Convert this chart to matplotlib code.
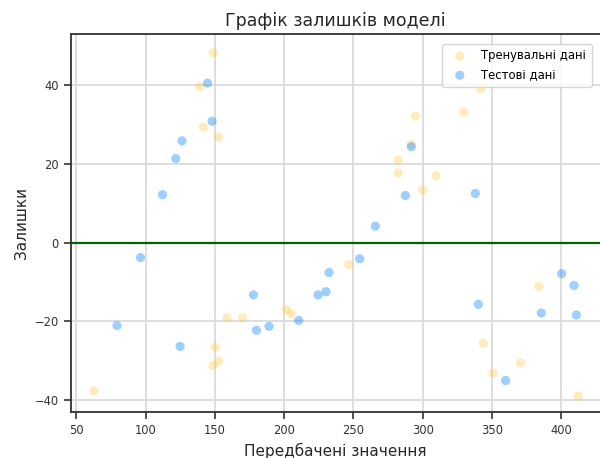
import matplotlib
matplotlib.use("Agg")
import matplotlib.pyplot as plt

train_pred = [62.6, 139.2, 148.7, 141.8, 152.6, 150.1, 152.6, 148.7, 158.8, 170.1,
              201.7, 205.0, 246.6, 294.7, 291.8, 282.2, 282.2, 309.6, 299.8, 342.0,
              329.6, 383.9, 343.8, 350.7, 370.7, 412.3]
train_resid = [-37.7, 39.7, 48.3, 29.4, 26.9, -26.6, -30.1, -31.3, -19.1, -19.1,
               -17.1, -18.1, -5.6, 32.2, 25.0, 21.0, 17.7, 17.0, 13.4, 39.1,
               33.2, -11.1, -25.6, -33.2, -30.6, -39.1]
test_pred = [144.7, 148.0, 126.3, 121.8, 112.2, 96.3, 79.4, 124.9, 177.8, 180.0,
             189.1, 210.5, 224.5, 230.2, 232.4, 254.5, 265.8, 291.8, 287.5, 338.0,
             340.2, 359.9, 385.6, 400.3, 409.2, 410.9]
test_resid = [40.6, 30.9, 25.9, 21.4, 12.2, -3.8, -21.1, -26.4, -13.3, -22.3,
              -21.3, -19.8, -13.3, -12.5, -7.6, -4.1, 4.2, 24.4, 12.0, 12.5,
              -15.7, -35.1, -17.9, -7.9, -10.9, -18.4]

xticks = [50, 100, 150, 200, 250, 300, 350, 400]
yticks = [-40, -20, 0, 20, 40]

fig = plt.figure(figsize=(6.0, 4.58), dpi=100)
ax = fig.add_axes([0.118, 0.1004, 0.882, 0.8254])

ax.grid(True, color="#d8d8d8", linewidth=1.2)
ax.set_axisbelow(True)

ax.scatter(train_pred, train_resid, s=44, color="#ffc83c", alpha=0.35,
           edgecolors="none", label="Тренувальні дані", zorder=3)
ax.scatter(test_pred, test_resid, s=44, color="dodgerblue", alpha=0.43,
           edgecolors="none", label="Тестові дані", zorder=3)
ax.axhline(0, color="darkgreen", linewidth=1.6, zorder=2)

ax.set_xlim(46, 428)
ax.set_ylim(-43.1, 53.1)
ax.set_xticks(xticks)
ax.set_yticks(yticks)

for side in ["left", "bottom", "top"]:
    ax.spines[side].set_color("#333333")
    ax.spines[side].set_linewidth(1.3)
ax.spines["right"].set_visible(False)
ax.tick_params(axis="both", which="major", length=5, width=1.2, color="#333333",
               labelsize=8.3, labelcolor="#333333", top=False, right=False)

ax.set_title("Графік залишків моделі", fontsize=12.5, color="#262626", pad=6)
ax.set_xlabel("Передбачені значення", fontsize=11, color="#262626", labelpad=4)
ax.set_ylabel("Залишки", fontsize=11, color="#262626", labelpad=4)

ax.legend(loc="upper right", fontsize=8.4, frameon=True, framealpha=0.8,
          edgecolor="#cccccc", borderpad=0.5, handletextpad=0.8,
          bbox_to_anchor=(0.995, 0.99))

fig.savefig("out.png", dpi=100)
